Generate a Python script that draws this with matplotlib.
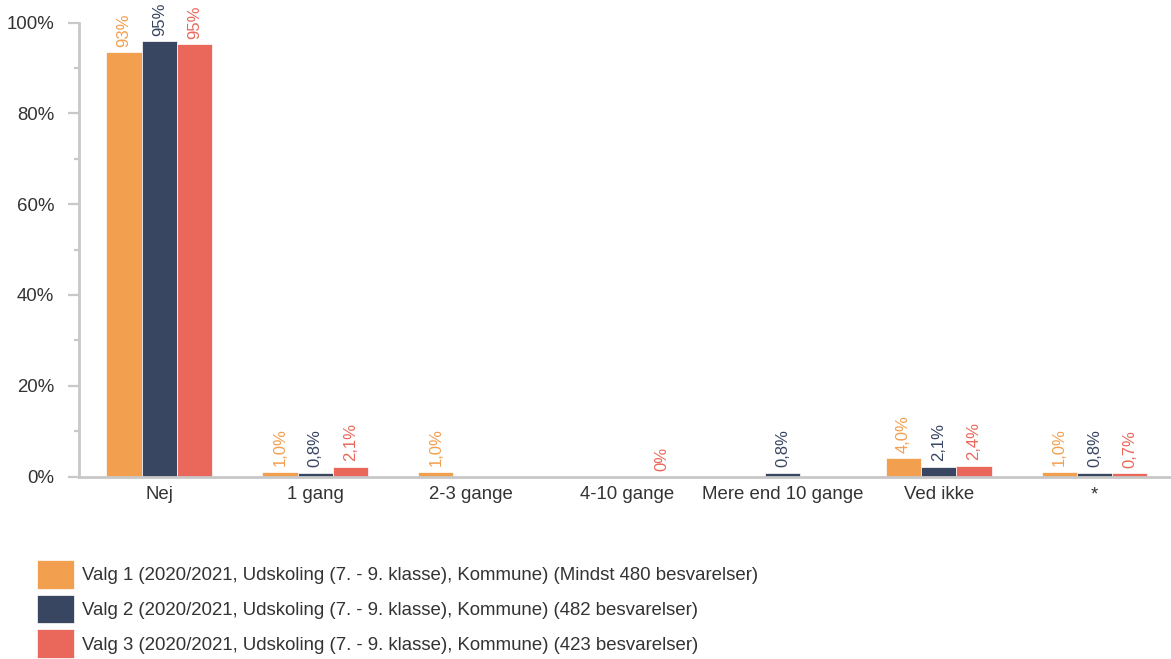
import numpy as np
import matplotlib.pyplot as plt
from matplotlib.ticker import MultipleLocator, FuncFormatter

plt.rcParams['font.family'] = ['Liberation Sans', 'DejaVu Sans']

categories = ['Nej', '1 gang', '2-3 gange', '4-10 gange', 'Mere end 10 gange', 'Ved ikke', '*']
series_names = [
    'Valg 1 (2020/2021, Udskoling (7. - 9. klasse), Kommune) (Mindst 480 besvarelser)',
    'Valg 2 (2020/2021, Udskoling (7. - 9. klasse), Kommune) (482 besvarelser)',
    'Valg 3 (2020/2021, Udskoling (7. - 9. klasse), Kommune) (423 besvarelser)',
]
# None = no bar / no label
valg1 = [93.5, 1.0, 1.0, None, None, 4.0, 1.0]
valg2 = [95.9, 0.8, None, None, 0.8, 2.1, 0.8]
valg3 = [95.2, 2.1, None, 0.0, None, 2.4, 0.7]
labels1 = ['93%', '1,0%', '1,0%', None, None, '4,0%', '1,0%']
labels2 = ['95%', '0,8%', None, None, '0,8%', '2,1%', '0,8%']
labels3 = ['95%', '2,1%', None, '0%', None, '2,4%', '0,7%']

colors = ['#F39F50', '#384661', '#E9685B']
text_col = '#333333'
axis_col = '#C8C8C8'
fs = 13.4

fig = plt.figure(figsize=(11.71, 6.59), dpi=100)
ax = fig.add_axes([79 / 1171, 1 - 476.5 / 659, 1 - 79 / 1171, (476.5 - 22.7) / 659])

x = np.arange(len(categories))
w = 0.226
for k, (vals, labs) in enumerate([(valg1, labels1), (valg2, labels2), (valg3, labels3)]):
    pos = x + (k - 1) * w
    heights = [np.nan if v is None else v for v in vals]
    ax.bar(pos, heights, width=w, color=colors[k], edgecolor='white', linewidth=0.5,
           label=series_names[k])
    for xi, v, lab in zip(pos, vals, labs):
        if lab is None:
            continue
        ax.annotate(lab, (xi, v), xytext=(0, 4), textcoords='offset points',
                    rotation=90, ha='center', va='bottom', fontsize=12,
                    color=colors[k])

ax.set_xlim(-0.515, 6.49)
ax.set_ylim(0, 100)
ax.set_xticks(x)
ax.set_xticklabels(categories, fontsize=fs, color=text_col)
ax.yaxis.set_major_locator(MultipleLocator(20))
ax.yaxis.set_minor_locator(MultipleLocator(10))
ax.yaxis.set_major_formatter(FuncFormatter(lambda v, p: f'{v:.0f}%'))
ax.tick_params(axis='y', which='major', length=8, width=1.6, color=axis_col,
               labelsize=fs, labelcolor=text_col, pad=10)
ax.tick_params(axis='y', which='minor', length=3.5, width=1.6, color=axis_col)
ax.tick_params(axis='x', length=0, pad=7)

for s in ['top', 'right']:
    ax.spines[s].set_visible(False)
for s in ['left', 'bottom']:
    ax.spines[s].set_color(axis_col)
    ax.spines[s].set_linewidth(2)

fig.legend(loc='upper left', bbox_to_anchor=(37 / 1171, 1 - 560 / 659),
           frameon=False, fontsize=fs, labelcolor=text_col,
           handlelength=1.97, handleheight=2.0, handletextpad=0.43,
           labelspacing=0.32, borderpad=0, borderaxespad=0)

fig.savefig('out.png', dpi=100)
